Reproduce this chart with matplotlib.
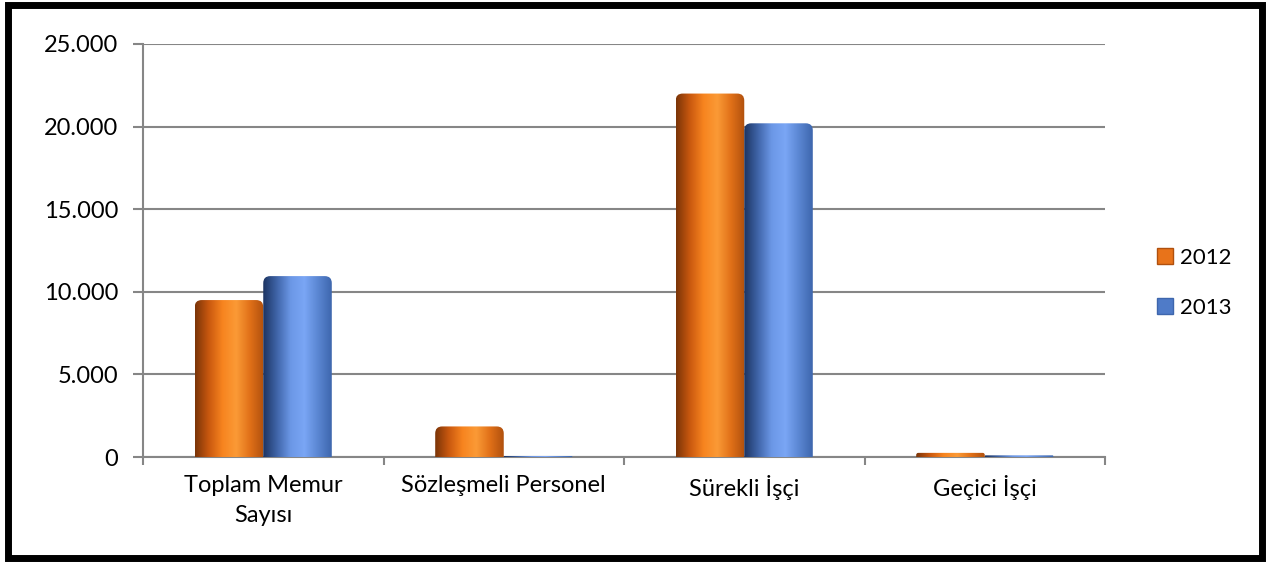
import matplotlib.pyplot as plt
import numpy as np
from matplotlib.colors import LinearSegmentedColormap
from matplotlib.patches import Rectangle, Patch, FancyBboxPatch

plt.rcParams['font.family'] = ['Lato', 'DejaVu Sans']

categories = ['Toplam Memur\nSayısı', 'Sözleşmeli Personel', 'Sürekli İşçi', 'Geçici İşçi']
years = ['2012', '2013']
v2012 = [9500, 1850, 22000, 250]
v2013 = [10950, 40, 20200, 100]
yticks = [0, 5000, 10000, 15000, 20000, 25000]
ytick_labels = ['0', '5.000', '10.000', '15.000', '20.000', '25.000']

orange_cm = LinearSegmentedColormap.from_list('o', ['#7a3408', '#c9580f', '#f7841f', '#fb9a36', '#e07018', '#b0500e'])
blue_cm = LinearSegmentedColormap.from_list('b', ['#1c3461', '#3f64a8', '#6b97e6', '#7aa6f5', '#5a86d2', '#3e66ad'])

fig = plt.figure(figsize=(12.66, 5.63), dpi=100)
ax = fig.add_axes([143/1266, 1-457/563, (1105-143)/1266, (457-44)/563])

x = np.arange(len(categories))
w = 0.285
ax.set_xlim(-0.5, len(categories) - 0.5)
ax.set_ylim(0, 25000)
b1 = ax.bar(x - w/2, v2012, w, color='none', zorder=3)
b2 = ax.bar(x + w/2, v2013, w, color='none', zorder=3)

# pixels per data unit, to get round corners of equal size in x and y
px_x = (1105 - 143) / 4.0
px_y = (457 - 44) / 25000.0
aspect = px_x / px_y

grad = np.linspace(0, 1, 256).reshape(1, -1)
for bars, cm in ((b1, orange_cm), (b2, blue_cm)):
    for r in bars:
        x0, y0 = r.get_x(), r.get_y()
        ww = r.get_width()
        hh = max(r.get_height(), 60)
        rs = min(7 / px_x, hh / aspect / 2)
        clip = FancyBboxPatch((x0, y0 - 2000), ww, hh + 2000, boxstyle='round,pad=0,rounding_size=%f' % rs,
                              mutation_aspect=aspect, transform=ax.transData, facecolor='none', edgecolor='none')
        ax.add_patch(clip)
        im = ax.imshow(grad, cmap=cm, aspect='auto', extent=(x0, x0 + ww, y0, y0 + hh),
                       zorder=3, interpolation='bicubic')
        im.set_clip_path(clip)

ax.set_xlim(-0.5, len(categories) - 0.5)
ax.set_ylim(0, 25000)
ax.set_yticks(yticks)
ax.set_yticklabels(ytick_labels, fontsize=17)
ax.set_xticks(x)
ax.set_xticklabels(categories, fontsize=17, linespacing=1.5)
ax.tick_params(axis='x', length=0, pad=13)
ax.set_xticks(np.arange(-0.5, len(categories)), minor=True)
ax.tick_params(axis='x', which='minor', length=6, width=1.5, color='#868686')
ax.tick_params(axis='y', length=7, width=1.5, color='#868686', pad=11)
ax.grid(axis='y', color='#868686', linewidth=1.5, zorder=0)
ax.set_axisbelow(True)
for s in ['top', 'right']:
    ax.spines[s].set_visible(False)
for s in ['left', 'bottom']:
    ax.spines[s].set_color('#868686')
    ax.spines[s].set_linewidth(1.5)

handles = [Patch(facecolor='#e8731a', edgecolor='#b0500e'), Patch(facecolor='#4f7bc8', edgecolor='#3e66ad')]
fig.legend(handles, years, loc='center left', bbox_to_anchor=(1137/1266, 1-283/563), frameon=False,
           fontsize=16, handlelength=0.72, handleheight=0.72, handletextpad=0.3, labelspacing=1.35)

fig.patches.append(Rectangle((8/1266, 5/563), 1254/1266, 553/563, transform=fig.transFigure,
                             fill=False, edgecolor='black', linewidth=5))

fig.savefig('out.png', dpi=100)
